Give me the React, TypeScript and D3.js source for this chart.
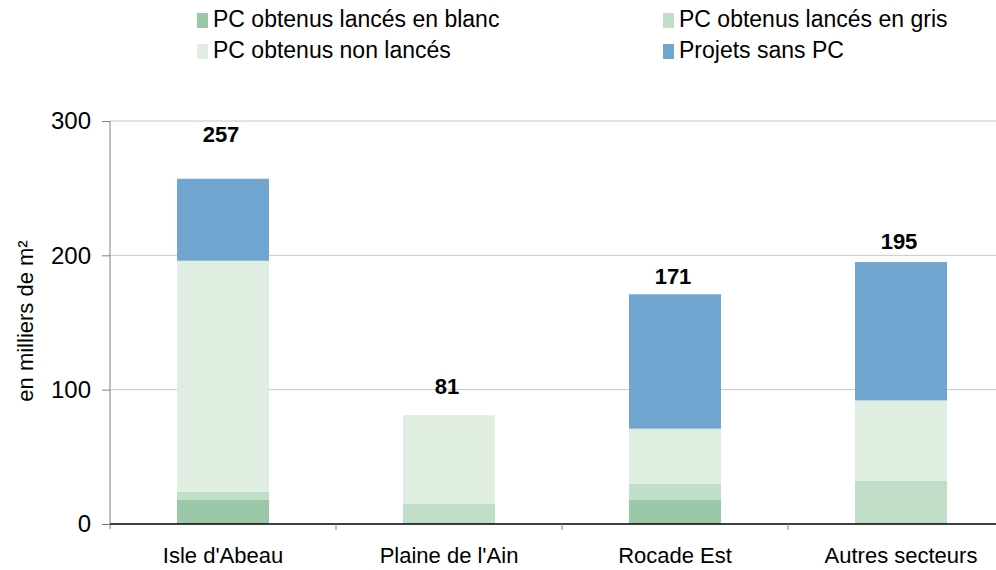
import React, { useEffect, useRef } from 'react';
import * as d3 from 'd3';

const categories = ["Isle d'Abeau", "Plaine de l'Ain", 'Rocade Est', 'Autres secteurs'];
const seriesNames = [
  'PC obtenus lancés en blanc',
  'PC obtenus lancés en gris',
  'PC obtenus non lancés',
  'Projets sans PC',
];
const lancesBlanc = [18, 0, 18, 0];
const lancesGris = [6, 15, 12, 32];
const nonLances = [172, 66, 41, 60];
const sansPC = [61, 0, 100, 103];
const totals = [257, 81, 171, 195];
// where each total label sits, in thousands of m²
const labelAt = [284, 97, 179, 205];
const yTicks = [0, 100, 200, 300];

const colors = ['#9bc9a8', '#c0dec8', '#e0ede1', '#6fa5ce'];

const font = 'Liberation Sans, Arial, sans-serif';

const App = () => {
  const svgRef = useRef<SVGSVGElement | null>(null);

  useEffect(() => {
    if (!svgRef.current) return;
    const svg = d3.select(svgRef.current);
    svg.selectAll('*').remove();

    const width = 996;
    const left = 110;
    const top = 121;
    const bottom = 524;

    const x = d3.scaleBand<string>()
      .domain(categories)
      .range([left, left + 226 * 4])
      .paddingInner(0.593)
      .paddingOuter(0.2965);

    const y = d3.scaleLinear().domain([0, 300]).range([bottom, top]);

    const rows = categories.map((c, i) => ({
      cat: c,
      [seriesNames[0]]: lancesBlanc[i],
      [seriesNames[1]]: lancesGris[i],
      [seriesNames[2]]: nonLances[i],
      [seriesNames[3]]: sansPC[i],
    }));
    const layers = d3.stack<any>().keys(seriesNames)(rows);

    // gridlines
    svg.append('g')
      .selectAll('line')
      .data(yTicks.filter(t => t > 0))
      .enter()
      .append('line')
      .attr('x1', left)
      .attr('x2', width)
      .attr('y1', d => y(d))
      .attr('y2', d => y(d))
      .attr('stroke', '#c8c8c8')
      .attr('stroke-width', 1);

    // bars
    svg.append('g')
      .selectAll('g')
      .data(layers)
      .enter()
      .append('g')
      .attr('fill', (d, i) => colors[i])
      .selectAll('rect')
      .data(d => d)
      .enter()
      .append('rect')
      .attr('x', d => x(d.data.cat) as number)
      .attr('width', x.bandwidth())
      .attr('y', d => y(d[1]))
      .attr('height', d => y(d[0]) - y(d[1]));

    // y axis
    const yAxis = svg.append('g')
      .attr('transform', `translate(${left},0)`)
      .call(d3.axisLeft(y).tickValues(yTicks).tickSize(8).tickPadding(11).tickSizeOuter(0));
    yAxis.select('.domain').attr('stroke', '#808080').attr('d', `M0,${top}V${bottom + 5}`);
    yAxis.selectAll('.tick line').attr('stroke', '#808080');
    yAxis.selectAll('.tick text')
      .attr('font-family', font)
      .attr('font-size', 24)
      .attr('fill', '#000');

    // baseline
    svg.append('line')
      .attr('x1', left)
      .attr('x2', width)
      .attr('y1', bottom)
      .attr('y2', bottom)
      .attr('stroke', '#000')
      .attr('stroke-width', 1.5);

    // category separators
    svg.append('g')
      .selectAll('line')
      .data(categories.slice(1))
      .enter()
      .append('line')
      .attr('x1', d => (x(d) as number) - (x.step() - x.bandwidth()) / 2)
      .attr('x2', d => (x(d) as number) - (x.step() - x.bandwidth()) / 2)
      .attr('y1', bottom)
      .attr('y2', bottom + 6)
      .attr('stroke', '#808080');

    // category labels
    svg.append('g')
      .selectAll('text')
      .data(categories)
      .enter()
      .append('text')
      .attr('x', d => (x(d) as number) + x.bandwidth() / 2)
      .attr('y', 563)
      .attr('text-anchor', 'middle')
      .attr('font-family', font)
      .attr('font-size', 22)
      .text(d => d);

    // totals
    svg.append('g')
      .selectAll('text')
      .data(totals)
      .enter()
      .append('text')
      .attr('x', (d, i) => (x(categories[i]) as number) + x.bandwidth() / 2 - 2)
      .attr('y', (d, i) => y(labelAt[i]))
      .attr('text-anchor', 'middle')
      .attr('font-family', font)
      .attr('font-size', 22)
      .attr('font-weight', 'bold')
      .text(d => d);

    // y title
    svg.append('text')
      .attr('transform', 'translate(33,321) rotate(-90)')
      .attr('text-anchor', 'middle')
      .attr('font-family', font)
      .attr('font-size', 22)
      .text('en milliers de m²');

    // legend
    const legendPos = [
      { x: 197, y: 27 },
      { x: 663, y: 27 },
      { x: 197, y: 58 },
      { x: 663, y: 58 },
    ];
    const legend = svg.append('g');
    seriesNames.forEach((name, i) => {
      const p = legendPos[i];
      const row = legend.append('g').attr('transform', `translate(${p.x},${p.y})`);
      row.append('rect')
        .attr('x', 0)
        .attr('y', -14)
        .attr('width', 11)
        .attr('height', 15)
        .attr('fill', colors[i]);
      row.append('text')
        .attr('x', 16)
        .attr('y', 0)
        .attr('font-family', font)
        .attr('font-size', 23)
        .text(name);
    });
  }, []);

  return (
    <div style={{ position: 'absolute', left: 0, top: 0 }}>
      <svg ref={svgRef} width={996} height={570} style={{ display: 'block', background: '#fff' }} />
    </div>
  );
};

export default App;
